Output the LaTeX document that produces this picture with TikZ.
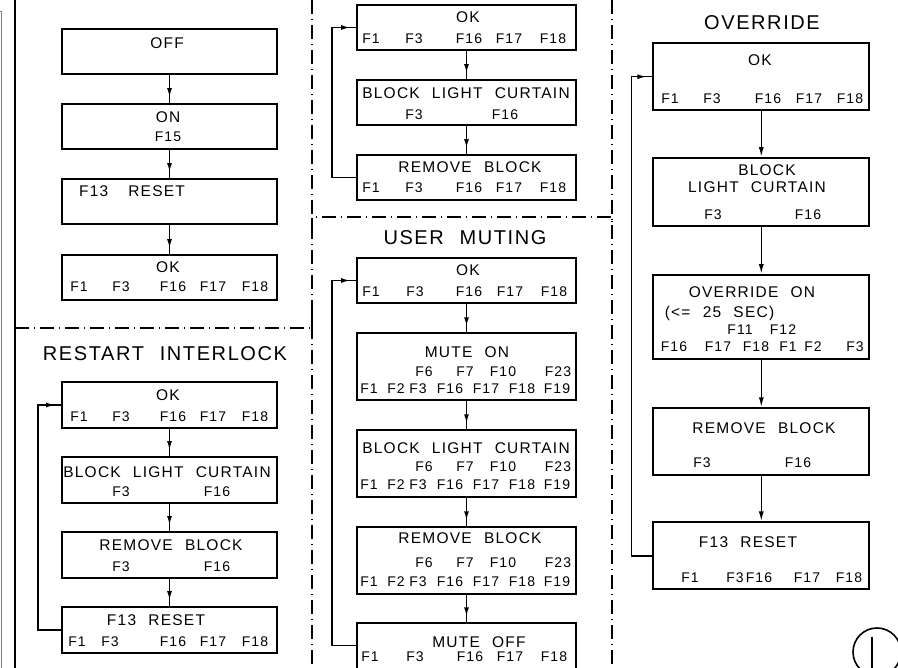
\documentclass[tikz,border=0pt]{standalone}
\usepackage{fontspec}
\setmainfont{Liberation Sans}[LetterSpace=8, WordSpace=2.2]
\usetikzlibrary{arrows.meta,calc,decorations.markings}

% one row of F keys inside a box: prefix, y, label/x list
\newcommand{\frow}[3]{%
  \foreach \fl/\fx in {#3} {\node[flbl] (#1\fl) at (\fx,#2) {\fl};}}

\begin{document}
\begin{tikzpicture}[x=1pt,y=-1pt,
    box/.style 2 args={draw, line width=1.8pt, minimum width=#1, minimum height=#2, inner sep=0pt},
    ttl/.style={font=\fontsize{15.5}{18}\selectfont, inner sep=0pt},
    flbl/.style={font=\fontsize{14}{16}\selectfont, inner sep=0pt},
    head/.style={font=\fontsize{20}{22}\selectfont, inner sep=0pt},
    flow/.style={line width=1.5pt, postaction={decorate},
        decoration={markings, mark=at position -6pt with {\arrow{Latex[length=9pt,width=5pt]}}}},
    feed/.style={line width=1.5pt, -{Latex[length=10pt,width=5pt]}},
    sect/.style={line width=1.1pt, dash pattern=on 14pt off 5pt on 1pt off 5pt}]
    \useasboundingbox (0,0) rectangle (898,668);

    % frame and section lines
    \draw[gray, line width=0.8pt] (0,11) -- (1.5,11) -- (1.5,668);
    \draw[line width=1.5pt] (15,0) -- (15,668);
    \draw[sect] (312,0) -- (312,668);
    \draw[sect] (612,0) -- (612,668);
    \draw[sect] (15,328) -- (312,328) -- (312,313);
    \draw[sect] (312,232) -- (312,217) -- (612,217) -- (612,232);

    % power up
    \node[box={215}{45}] (off) at (169.5,51.5) {};
    \node[box={215}{45}] (on) at (169.5,126.5) {};
    \node[box={215}{45}] (reset) at (169.5,201.5) {};
    \node[box={215}{45}] (ok) at (169.5,277.5) {};
    \node[ttl] (offT) at (167,43) {OFF};
    \node[ttl] (onT) at (168,117) {ON};
    \node[flbl] (onF) at (168,137) {F15};
    \node[ttl] (resetT) at (132,191) {F13\hspace{20pt}RESET};
    \node[ttl] (okT) at (168,267) {OK};
    \frow{ok}{287}{F1/79, F3/121, F16/173, F17/213, F18/255}
    \draw[flow] (off) -- (on);
    \draw[flow] (on) -- (reset);
    \draw[flow] (reset) -- (ok);

    % restart interlock
    \node[head] (riHead) at (165,354) {RESTART INTERLOCK};
    \node[box={215}{46}] (riok) at (169.5,405) {};
    \node[box={215}{46}] (riblock) at (169.5,480) {};
    \node[box={215}{46}] (riremove) at (169.5,555) {};
    \node[box={215}{46}] (rireset) at (169.5,630) {};
    \node[ttl] (riokT) at (168,395) {OK};
    \frow{riok}{417}{F1/79, F3/121, F16/173, F17/213, F18/255}
    \node[ttl] (riblockT) at (167,472) {BLOCK LIGHT CURTAIN};
    \frow{riblock}{492}{F3/121, F16/217}
    \node[ttl] (riremoveT) at (171,545) {REMOVE BLOCK};
    \frow{riremove}{567}{F3/121, F16/217}
    \node[ttl] (riresetT) at (156,620) {F13 RESET};
    \frow{rireset}{642}{F1/77, F3/110, F16/173, F17/213, F18/255}
    \draw[flow] (riok) -- (riblock);
    \draw[flow] (riblock) -- (riremove);
    \draw[flow] (riremove) -- (rireset);
    \draw[flow] (rireset.west) -- ++(-23,0) |- (riok.west);

    % automatic start
    \node[box={219}{45}] (mok) at (466.5,27.5) {};
    \node[box={219}{45}] (mblock) at (466.5,102.5) {};
    \node[box={219}{45}] (mremove) at (466.5,177.5) {};
    \node[ttl] (mokT) at (468,17) {OK};
    \frow{mok}{39}{F1/371, F3/414, F16/469, F17/509, F18/553}
    \node[ttl] (mblockT) at (466,93) {BLOCK LIGHT CURTAIN};
    \frow{mblock}{115}{F3/414, F16/505}
    \node[ttl] (mremoveT) at (470,167) {REMOVE BLOCK};
    \frow{mremove}{188}{F1/371, F3/414, F16/469, F17/509, F18/553}
    \draw[flow] (mok) -- (mblock);
    \draw[flow] (mblock) -- (mremove);
    \draw[flow] (mremove.west) -- ++(-24,0) |- (mok.west);

    % user muting
    \node[head] (umHead) at (465,238) {USER MUTING};
    \node[box={219}{45}] (uok) at (466.5,280.5) {};
    \node[box={219}{67}] (umuteon) at (466.5,366.7) {};
    \node[box={219}{67}] (ublock) at (466.5,463.7) {};
    \node[box={219}{67}] (uremove) at (466.5,560.7) {};
    \node[box={219}{48}] (umuteoff) at (466.5,647.3) {};
    \node[ttl] (uokT) at (468,270) {OK};
    \frow{uok}{292}{F1/371, F3/415, F16/469, F17/510, F18/554}
    \node[ttl] (umuteonT) at (467,352) {MUTE ON};
    \frow{umuteon}{372}{F6/424, F7/465, F10/503, F23/558}
    \frow{umuteon}{389}{F1/369, F2/396, F3/418, F16/450, F17/486, F18/522, F19/557}
    \node[ttl] (ublockT) at (466,448) {BLOCK LIGHT CURTAIN};
    \frow{ublock}{467}{F6/424, F7/465, F10/503, F23/558}
    \frow{ublock}{485}{F1/369, F2/396, F3/418, F16/450, F17/486, F18/522, F19/557}
    \node[ttl] (uremoveT) at (470,538) {REMOVE BLOCK};
    \frow{uremove}{563}{F6/424, F7/465, F10/503, F23/558}
    \frow{uremove}{582}{F1/369, F2/396, F3/418, F16/450, F17/486, F18/522, F19/557}
    \node[ttl] (umuteoffT) at (479,642) {MUTE OFF};
    \frow{umuteoff}{657}{F1/370, F3/415, F16/470, F17/510, F18/554}
    \draw[flow] (uok) -- (umuteon);
    \draw[flow] (umuteon) -- (ublock);
    \draw[flow] (ublock) -- (uremove);
    \draw[flow] (uremove) -- (umuteoff);
    \draw[flow] (umuteoff.west |- 0,645.5) -- ++(-24,0) |- (uok.west);

    % override
    \node[head] (ovHead) at (762,23) {OVERRIDE};
    \node[box={216}{67}] (ook) at (761.3,76.7) {};
    \node[box={216}{68}] (oblock) at (761.3,192) {};
    \node[box={216}{84}] (oon) at (761.3,317) {};
    \node[box={216}{67}] (oremove) at (761.3,441.7) {};
    \node[box={216}{67}] (oreset) at (761.3,555.8) {};
    \node[ttl] (ookT) at (760,60) {OK};
    \frow{ook}{99}{F1/670, F3/712, F16/768, F17/809, F18/850}
    \node[ttl] (oblockT) at (767,170) {BLOCK};
    \node[ttl] (oblockU) at (757,187) {LIGHT CURTAIN};
    \frow{oblock}{215}{F3/713, F16/808}
    \node[ttl] (oonT) at (752,292) {OVERRIDE ON};
    \node[ttl] (oonU) at (719.5,313) {(<= 25 SEC)};
    \frow{oon}{330}{F11/740, F12/783}
    \frow{oon}{347}{F16/674, F17/718, F18/756, F1/788, F2/813, F3/855}
    \node[ttl] (oremoveT) at (764,428) {REMOVE BLOCK};
    \frow{oremove}{463}{F3/702, F16/798}
    \node[ttl] (oresetT) at (748,542) {F13 RESET};
    \frow{oreset}{578}{F1/690, F3/735, F16/759, F17/807, F18/849}
    \draw[feed] (ook) -- (oblock);
    \draw[feed] (oblock) -- (oon);
    \draw[feed] (oon) -- (oremove);
    \draw[feed] (oremove) -- (oreset);
    \draw[flow] (oreset.west) -- ++(-21,0) |- (ook.west);

    % sheet mark
    \draw[line width=1.6pt] (877,652) circle[radius=24];
    \draw[line width=1.6pt] (872,637) -- (872,668);
\end{tikzpicture}
\end{document}
